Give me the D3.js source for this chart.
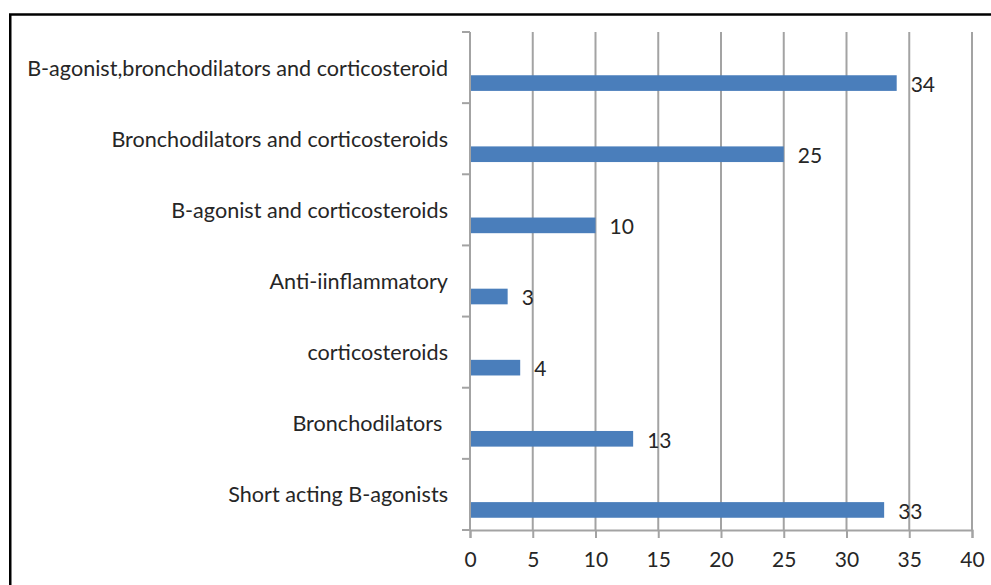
<!DOCTYPE html>
<html>
<head>
<meta charset="utf-8">
<script src="https://cdn.jsdelivr.net/npm/d3@7"></script>
<style>
  body { margin: 0; background: #fff; }
  svg { display: block; }
</style>
</head>
<body>
<svg id="chart" width="991" height="585"></svg>
<script>
const categories = [
  'B-agonist,bronchodilators and corticosteroid',
  'Bronchodilators and corticosteroids',
  'B-agonist and corticosteroids',
  'Anti-iinflammatory',
  'corticosteroids',
  'Bronchodilators ',
  'Short acting B-agonists'
];
const values = [34, 25, 10, 3, 4, 13, 33];
const xTicks = [0, 5, 10, 15, 20, 25, 30, 35, 40];

const FONT = 'Lato, "Open Sans", sans-serif';
const GRID = '#a3a3a3';
const BAR = '#4a7ebb';
const TXT = '#262626';

const svg = d3.select('#chart');

// outer frame (only left and top edges fall inside the picture)
svg.append('rect')
  .attr('x', 10.25).attr('y', 14.5)
  .attr('width', 1200).attr('height', 800)
  .attr('fill', 'none')
  .attr('stroke', '#000')
  .attr('stroke-width', 2.5);

const x = d3.scaleLinear().domain([0, 40]).range([470, 972]);
const y = d3.scaleBand().domain(categories).range([32, 530]).paddingInner(0);
const bw = y.bandwidth();

// vertical gridlines
svg.append('g').selectAll('line')
  .data(xTicks.slice(1))
  .join('line')
  .attr('x1', d => x(d)).attr('x2', d => x(d))
  .attr('y1', y.range()[0]).attr('y2', y.range()[1])
  .attr('stroke', GRID)
  .attr('stroke-width', 2);

// bars
svg.append('g').selectAll('rect')
  .data(values)
  .join('rect')
  .attr('x', x(0))
  .attr('y', (d, i) => y(categories[i]) + bw * 0.608)
  .attr('width', d => x(d) - x(0))
  .attr('height', bw * 0.22)
  .attr('fill', BAR);

// value labels
svg.append('g').selectAll('text')
  .data(values)
  .join('text')
  .attr('x', d => x(d) + 14)
  .attr('y', (d, i) => y(categories[i]) + bw * 0.722)
  .attr('dominant-baseline', 'central')
  .attr('font-family', FONT)
  .attr('font-size', 21)
  .attr('fill', TXT)
  .text(d => d);

// x axis
const xAxis = svg.append('g')
  .attr('transform', `translate(0,${y.range()[1]})`)
  .call(d3.axisBottom(x).tickValues(xTicks).tickSize(8).tickPadding(14));
xAxis.select('.domain').attr('stroke', GRID).attr('stroke-width', 2);
xAxis.selectAll('.tick line').attr('stroke', GRID).attr('stroke-width', 2);
xAxis.selectAll('.tick text')
  .attr('font-family', FONT).attr('font-size', 21).attr('fill', TXT);

// y axis
const yTicks = d3.range(categories.length + 1).map(i => y.range()[0] + i * bw);
const yAxis = svg.append('g');
yAxis.append('line')
  .attr('x1', x(0)).attr('x2', x(0))
  .attr('y1', y.range()[0]).attr('y2', y.range()[1])
  .attr('stroke', GRID).attr('stroke-width', 2);
yAxis.selectAll('.yt')
  .data(yTicks)
  .join('line')
  .attr('class', 'yt')
  .attr('x1', x(0) - 8).attr('x2', x(0))
  .attr('y1', d => d).attr('y2', d => d)
  .attr('stroke', GRID).attr('stroke-width', 2);

// category labels
svg.append('g').selectAll('text')
  .data(categories)
  .join('text')
  .attr('x', 448)
  .attr('y', d => y(d) + bw / 2)
  .attr('text-anchor', 'end')
  .attr('dominant-baseline', 'central')
  .attr('font-family', FONT)
  .attr('font-size', 21.6)
  .attr('fill', TXT)
  .style('white-space', 'pre')
  .text(d => d);
</script>
</body>
</html>
